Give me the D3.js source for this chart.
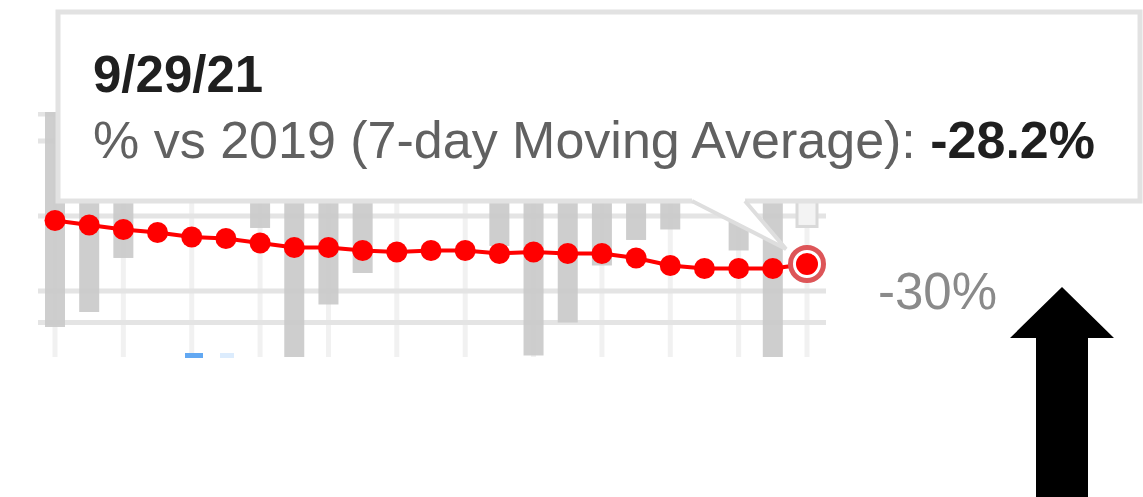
<!DOCTYPE html>
<html>
<head>
<meta charset="utf-8">
<script src="https://cdn.jsdelivr.net/npm/d3@7"></script>
<style>
  body { margin: 0; background: #fff; }
  svg { display: block; font-family: Arial, "Liberation Sans", sans-serif; }
</style>
</head>
<body>
<div id="chart"></div>
<script>
// Chart data
const dates = ['9/7/21', '9/8/21', '9/9/21', '9/10/21', '9/11/21', '9/12/21', '9/13/21',
  '9/14/21', '9/15/21', '9/16/21', '9/17/21', '9/18/21', '9/19/21', '9/20/21',
  '9/21/21', '9/22/21', '9/23/21', '9/24/21', '9/25/21', '9/26/21', '9/27/21',
  '9/28/21', '9/29/21'];
const dailyPct = [-32.4, -31.4, -27.8, -21.0, -18.5, -19.5, -25.8,
  -36.0, -30.9, -28.8, -22.0, -20.0, -21.0, -27.0,
  -34.3, -32.1, -28.3, -26.6, -25.9, -23.0, -27.3,
  -35.5, -25.7];
const avgPct = [-25.3, -25.6, -25.9, -26.1, -26.4, -26.5, -26.8,
  -27.1, -27.1, -27.3, -27.4, -27.3, -27.3, -27.5,
  -27.4, -27.5, -27.5, -27.8, -28.3, -28.5, -28.5,
  -28.5, -28.2];
const gridValues = [-18.2, -20, -25, -30, -32.1];
const tickLabels = [-30];
const seriesName = '% vs 2019 (7-day Moving Average)';

const W = 1143, H = 497;
const plot = {left: 38, right: 826, top: 112, bottom: 357};

const svg = d3.select('#chart').append('svg')
    .attr('width', W)
    .attr('height', H);

const x = d3.scalePoint()
    .domain(dates)
    .range([55, 807]);

const y = d3.scaleLinear()
    .domain([-34.4, -18.07])
    .range([plot.bottom, plot.top]);

svg.append('defs').append('clipPath')
    .attr('id', 'plotclip')
  .append('rect')
    .attr('x', plot.left)
    .attr('y', plot.top)
    .attr('width', plot.right - plot.left)
    .attr('height', plot.bottom - plot.top);

const g = svg.append('g').attr('clip-path', 'url(#plotclip)');

// vertical gridlines, every second day
g.selectAll('.vgrid')
    .data(dates.filter((d, i) => i % 2 === 0))
    .enter().append('line')
    .attr('x1', d => x(d)).attr('x2', d => x(d))
    .attr('y1', plot.top).attr('y2', plot.bottom)
    .attr('stroke', '#f1f1f1')
    .attr('stroke-width', 5);

// horizontal gridlines
g.selectAll('.hgrid')
    .data(gridValues)
    .enter().append('line')
    .attr('x1', plot.left).attr('x2', plot.right)
    .attr('y1', d => y(d)).attr('y2', d => y(d))
    .attr('stroke', '#e4e4e4')
    .attr('stroke-width', 5);

// daily bars hang from the 0% baseline above the view window
const barW = 20;
const last = dates.length - 1;
g.selectAll('.bar')
    .data(dates)
    .enter().append('rect')
    .attr('x', d => x(d) - barW / 2)
    .attr('y', y(0))
    .attr('width', barW)
    .attr('height', (d, i) => y(dailyPct[i]) - y(0))
    .attr('fill', (d, i) => i === last ? '#f3f3f3' : '#c9c9c9')
    .attr('fill-opacity', (d, i) => i === last ? 1 : 0.9)
    .attr('stroke', (d, i) => i === last ? '#d9d9d9' : 'none')
    .attr('stroke-width', 3);

// moving average line + points
const line = d3.line()
    .x((d, i) => x(dates[i]))
    .y(d => y(d));

svg.append('path')
    .datum(avgPct)
    .attr('d', line)
    .attr('fill', 'none')
    .attr('stroke', '#ff0000')
    .attr('stroke-width', 4);

svg.selectAll('.dot')
    .data(avgPct)
    .enter().append('circle')
    .attr('cx', (d, i) => x(dates[i]))
    .attr('cy', d => y(d))
    .attr('r', 10.5)
    .attr('fill', '#ff0000');

// hovered point
const hx = x(dates[last]), hy = y(avgPct[last]);
svg.append('circle')
    .attr('cx', hx).attr('cy', hy).attr('r', 16.5)
    .attr('fill', '#fff')
    .attr('stroke', '#dd5558')
    .attr('stroke-width', 5);
svg.append('circle')
    .attr('cx', hx).attr('cy', hy).attr('r', 11)
    .attr('fill', '#ff0000');

// right axis label (the -20% one sits under the tooltip)
svg.selectAll('.tick-label')
    .data(tickLabels)
    .enter().append('text')
    .attr('x', 878)
    .attr('y', d => y(d))
    .attr('dy', '0.36em')
    .attr('font-size', 51)
    .attr('fill', '#8a8a8a')
    .text(d => d + '%');

// legend remnant peeking at the bottom edge
svg.append('rect').attr('x', 185).attr('y', 353).attr('width', 18).attr('height', 5).attr('fill', '#62a8f2');
svg.append('rect').attr('x', 220).attr('y', 353).attr('width', 14).attr('height', 5).attr('fill', '#dcecfd');

// tooltip
const tip = svg.append('g');
tip.append('rect')
    .attr('x', 58).attr('y', 12)
    .attr('width', 1082).attr('height', 189)
    .attr('fill', '#fff')
    .attr('stroke', '#e2e2e2')
    .attr('stroke-width', 5);

const cl = hx - 115, cr = hx - 62, cy0 = 201, tipX = hx - 21, tipY = hy - 15;
tip.append('path')
    .attr('d', `M${cl},${cy0 - 3}L${cl},${cy0}L${tipX},${tipY}L${cr},${cy0}L${cr},${cy0 - 3}Z`)
    .attr('fill', '#fff')
    .attr('stroke', 'none');
tip.append('path')
    .attr('d', `M${cl},${cy0}L${tipX},${tipY}L${cr},${cy0}`)
    .attr('fill', 'none')
    .attr('stroke', '#dedede')
    .attr('stroke-width', 4);

tip.append('text')
    .attr('x', 93).attr('y', 92)
    .attr('font-size', 51)
    .attr('font-weight', 'bold')
    .attr('fill', '#1f1f1f')
    .text(dates[last]);

const t2 = tip.append('text')
    .attr('x', 93).attr('y', 158)
    .attr('font-size', 52)
    .attr('fill', '#616161');
t2.append('tspan').text(seriesName + ': ');
t2.append('tspan')
    .attr('font-weight', 'bold')
    .attr('fill', '#1f1f1f')
    .text(avgPct[last].toFixed(1) + '%');

// black arrow pointing up at the axis label
const ax = 1062;
svg.append('path')
    .attr('d', `M${ax},287L${ax + 52},338L${ax + 26},338L${ax + 26},${H}L${ax - 26},${H}L${ax - 26},338L${ax - 52},338Z`)
    .attr('fill', '#000');
</script>
</body>
</html>
